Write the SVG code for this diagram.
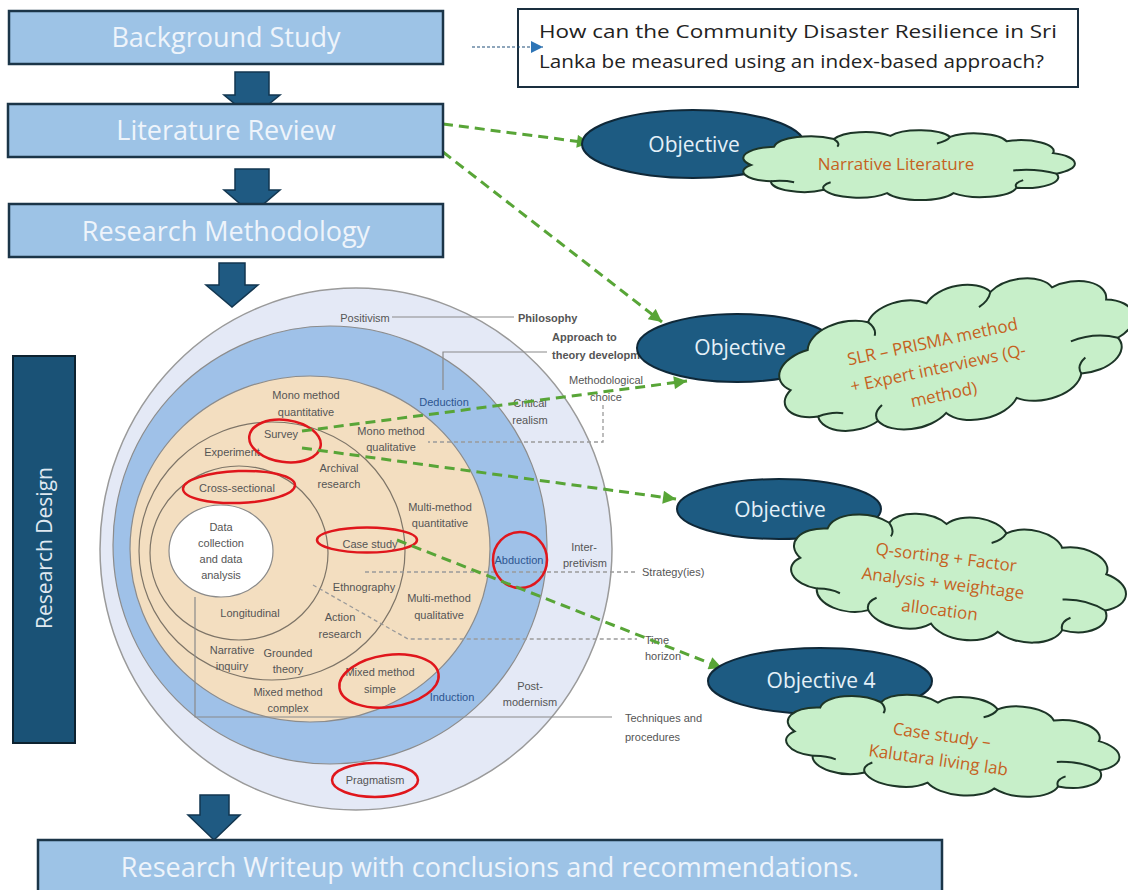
<svg xmlns="http://www.w3.org/2000/svg" width="1128" height="890" viewBox="0 0 1128 890">
  <style>
    .stage{fill:#9dc3e6;stroke:#1b3548;stroke-width:2.5}
    .stage-t{font-family:"Open Sans","Liberation Sans",sans-serif;font-size:27px;fill:#eef4fb;text-anchor:middle}
    .block{fill:#1f5a82;stroke:#123650;stroke-width:1.5}
    .obj{fill:#1d5b82;stroke:#0f2838;stroke-width:2}
    .obj-t{font-family:"Open Sans","Liberation Sans",sans-serif;font-size:21px;fill:#e4f0f8;text-anchor:middle}
    .cloud{fill:#c7efc9;stroke:#1d3527;stroke-width:2;vector-effect:non-scaling-stroke}
    .cloud-in{fill:none;stroke:#1d3527;stroke-width:2;vector-effect:non-scaling-stroke}
    .cloud-t{font-family:"Open Sans","Liberation Sans",sans-serif;font-size:17px;fill:#c5621e;text-anchor:middle}
    .q-t{font-family:"Open Sans","Liberation Sans",sans-serif;font-size:18.5px;fill:#222222}
    .on{font-family:"Liberation Sans",Arial,sans-serif;font-size:11px;fill:#555555;text-anchor:middle}
    .on-s{text-anchor:start}
    .on-b{font-weight:bold}
    .on-blue{fill:#2d5590}
    .ring{fill:none;stroke:#7d7467;stroke-width:1.2}
    .lbl-line{stroke:#8a8a8a;stroke-width:1.2;fill:none}
    .lbl-dash{stroke:#9a9a9a;stroke-width:1.3;stroke-dasharray:4 3;fill:none}
    .hl{fill:none;stroke:#e0161c;stroke-width:2.5}
    .flow{fill:none;stroke:#58a537;stroke-width:3;stroke-dasharray:10 6}
  </style>
  <defs>
    <marker id="greenHead" viewBox="0 0 10 10" refX="10" refY="5" markerWidth="15" markerHeight="13" markerUnits="userSpaceOnUse" orient="auto">
      <path d="M0,0 L10,5 L0,10 Z" fill="#58a537"/>
    </marker>
    <marker id="blueHead" viewBox="0 0 10 10" refX="10" refY="5" markerWidth="12" markerHeight="12" markerUnits="userSpaceOnUse" orient="auto">
      <path d="M0,0 L10,5 L0,10 Z" fill="#2e75b6"/>
    </marker>
    <!-- cloud outline in a 200x120 frame, centre ~ (102,62) -->
    <g id="cloudShape">
      <path class="cloud" d="M8,62 A21,21 0 0 1 22,28 A22,22 0 0 1 58,14 A20,20 0 0 1 92,8 A20,20 0 0 1 128,10 A20,20 0 0 1 162,18 A20,20 0 0 1 190,40 A21,21 0 0 1 192,78 A20,20 0 0 1 168,104 A22,22 0 0 1 130,114 A22,22 0 0 1 90,114 A22,22 0 0 1 52,108 A20,20 0 0 1 20,92 A18,18 0 0 1 8,62 Z"/>
      <path class="cloud-in" d="M192,78 Q180,68 166,72 M52,108 Q50,100 56,94 M20,92 Q28,90 34,94 M128,10 Q126,18 120,22 M58,14 Q62,22 60,28 M168,104 Q166,96 172,90"/>
    </g>
  </defs>

  <rect width="1128" height="890" fill="#ffffff"/>

  <!-- research onion -->
  <g id="research-onion">
    <ellipse cx="356" cy="549" rx="256" ry="261" fill="#e4e9f6" stroke="#9a9a9a" stroke-width="1.5"/>
    <ellipse cx="330" cy="545" rx="217" ry="219" fill="#9fc1e8" stroke="#8c8c8c" stroke-width="1.2"/>
    <ellipse cx="310" cy="549" rx="180" ry="173" fill="#f3dec0" stroke="#8c8c8c" stroke-width="1.2"/>
    <ellipse class="ring" cx="272" cy="551" rx="133" ry="129"/>
    <ellipse class="ring" cx="239" cy="553" rx="89" ry="87"/>
    <ellipse cx="221" cy="551" rx="52" ry="46" fill="#ffffff" stroke="#8a8a8a" stroke-width="1.2"/>

    <!-- layer label leaders -->
    <path class="lbl-line" d="M392,317 H514"/>
    <path class="lbl-line" d="M443,390 V352 H547"/>
    <path class="lbl-dash" d="M603,405 V442 H428"/>
    <path class="lbl-dash" d="M365,572 H635"/>
    <path class="lbl-dash" d="M313,585 L408,639 H637"/>
    <path class="lbl-line" d="M195,597 V717 H612"/>

    <text class="on" x="365" y="322">Positivism</text>
    <text class="on on-s on-b" x="518" y="322">Philosophy</text>
    <text class="on on-s on-b" x="552" y="341">Approach to</text>
    <text class="on on-s on-b" x="552" y="359">theory development</text>
    <text class="on" x="606" y="384">Methodological</text>
    <text class="on" x="606" y="401">choice</text>
    <text class="on on-blue" x="444" y="406">Deduction</text>
    <text class="on" x="530" y="407">Critical</text>
    <text class="on" x="530" y="424">realism</text>
    <text class="on" x="306" y="399">Mono method</text>
    <text class="on" x="306" y="416">quantitative</text>
    <text class="on" x="391" y="435">Mono method</text>
    <text class="on" x="391" y="451">qualitative</text>
    <text class="on" x="281" y="438">Survey</text>
    <text class="on" x="232" y="456">Experiment</text>
    <text class="on" x="339" y="472">Archival</text>
    <text class="on" x="339" y="488">research</text>
    <text class="on" x="237" y="492">Cross-sectional</text>
    <text class="on" x="440" y="511">Multi-method</text>
    <text class="on" x="440" y="527">quantitative</text>
    <text class="on" x="221" y="531">Data</text>
    <text class="on" x="221" y="547">collection</text>
    <text class="on" x="221" y="563">and data</text>
    <text class="on" x="221" y="579">analysis</text>
    <text class="on" x="370" y="548">Case study</text>
    <text class="on on-blue" x="519" y="564">Abduction</text>
    <text class="on" x="584" y="551">Inter-</text>
    <text class="on" x="585" y="567">pretivism</text>
    <text class="on on-s" x="642" y="576">Strategy(ies)</text>
    <text class="on" x="364" y="591">Ethnography</text>
    <text class="on" x="250" y="617">Longitudinal</text>
    <text class="on" x="439" y="602">Multi-method</text>
    <text class="on" x="439" y="619">qualitative</text>
    <text class="on" x="340" y="621">Action</text>
    <text class="on" x="340" y="638">research</text>
    <text class="on on-s" x="645" y="644">Time</text>
    <text class="on on-s" x="645" y="660">horizon</text>
    <text class="on" x="232" y="654">Narrative</text>
    <text class="on" x="232" y="670">inquiry</text>
    <text class="on" x="288" y="657">Grounded</text>
    <text class="on" x="288" y="673">theory</text>
    <text class="on" x="380" y="676">Mixed method</text>
    <text class="on" x="380" y="693">simple</text>
    <text class="on" x="288" y="696">Mixed method</text>
    <text class="on" x="288" y="712">complex</text>
    <text class="on on-blue" x="452" y="701">Induction</text>
    <text class="on" x="530" y="690">Post-</text>
    <text class="on" x="530" y="706">modernism</text>
    <text class="on on-s" x="625" y="722">Techniques and</text>
    <text class="on on-s" x="625" y="741">procedures</text>
    <text class="on" x="375" y="784">Pragmatism</text>

    <!-- highlighted choices -->
    <ellipse class="hl" cx="285" cy="441" rx="36" ry="21" transform="rotate(8 285 441)"/>
    <ellipse class="hl" cx="239" cy="487" rx="56" ry="16" transform="rotate(-2 239 487)"/>
    <ellipse class="hl" cx="367" cy="540" rx="50" ry="12.5"/>
    <ellipse class="hl" cx="520" cy="560" rx="27" ry="28"/>
    <ellipse class="hl" cx="389" cy="681" rx="50" ry="26" transform="rotate(-8 389 681)"/>
    <ellipse class="hl" cx="375" cy="780" rx="43" ry="17"/>
  </g>

  <!-- research question -->
  <g id="research-question">
    <rect x="518" y="9" width="560" height="78" fill="#ffffff" stroke="#1a2f3f" stroke-width="2"/>
    <text class="q-t" x="539" y="38" textLength="518" lengthAdjust="spacingAndGlyphs">How can the Community Disaster Resilience in Sri</text>
    <text class="q-t" x="539" y="68" textLength="505" lengthAdjust="spacingAndGlyphs">Lanka be measured using an index-based approach?</text>
  </g>

  <!-- connectors -->
  <g id="connectors">
    <polygon class="block" points="235,72 269,72 269,95 280,95 252,118 224,95 235,95"/>
    <polygon class="block" points="235,169 269,169 269,190 280,190 252,214 224,190 235,190"/>
    <polygon class="block" points="219,263 245,263 245,285 258,285 232,307 206,285 219,285"/>
    <polygon class="block" points="200,795 229,795 229,815 240,815 214,840 188,815 200,815"/>
    <path d="M472,47 H543" fill="none" stroke="#1f4e79" stroke-width="1.2" stroke-dasharray="3 2" marker-end="url(#blueHead)"/>
    <path class="flow" d="M443,124 L590,143" marker-end="url(#greenHead)"/>
    <path class="flow" d="M443,152 L662,322" marker-end="url(#greenHead)"/>
    <path class="flow" d="M302,431 L687,381" marker-end="url(#greenHead)"/>
    <path class="flow" d="M302,448 L676,499" marker-end="url(#greenHead)"/>
    <path class="flow" d="M397,540 L722,668" marker-end="url(#greenHead)"/>
  </g>

  <!-- process stages -->
  <g id="background-study">
    <rect class="stage" x="9" y="11" width="434" height="53"/>
    <text class="stage-t" x="226" y="47">Background Study</text>
  </g>
  <g id="literature-review">
    <rect class="stage" x="8" y="104" width="435" height="53"/>
    <text class="stage-t" x="226" y="140">Literature Review</text>
  </g>
  <g id="research-methodology">
    <rect class="stage" x="9" y="204" width="434" height="53"/>
    <text class="stage-t" x="226" y="241">Research Methodology</text>
  </g>
  <g id="research-writeup">
    <rect class="stage" x="38" y="840" width="904" height="60"/>
    <text class="stage-t" x="490" y="877">Research Writeup with conclusions and recommendations.</text>
  </g>
  <g id="research-design">
    <rect x="13" y="356" width="62" height="387" fill="#1a5276" stroke="#0d2230" stroke-width="2"/>
    <text x="0" y="0" transform="translate(52,548) rotate(-90)" font-family="'Open Sans','Liberation Sans',sans-serif" font-size="21" fill="#dfe8f0" text-anchor="middle">Research Design</text>
  </g>

  <!-- objectives -->
  <g id="objective-1">
    <ellipse class="obj" cx="693" cy="144" rx="111" ry="34"/>
    <text class="obj-t" x="694" y="152" font-size="22">Objective</text>
    <use href="#cloudShape" transform="translate(907,165) scale(1.66,0.54) translate(-102,-62)"/>
    <text class="cloud-t" x="896" y="170" font-size="16">Narrative Literature</text>
  </g>
  <g id="objective-2">
    <ellipse class="obj" cx="737" cy="348" rx="100" ry="34"/>
    <text class="obj-t" x="740" y="355">Objective</text>
    <use href="#cloudShape" transform="translate(956,355) rotate(-12) scale(1.8,1.05) translate(-102,-62)"/>
    <g transform="translate(938,368) rotate(-12)">
      <text class="cloud-t" x="0" y="-21">SLR – PRISMA method</text>
      <text class="cloud-t" x="0" y="6">+ Expert interviews (Q-</text>
      <text class="cloud-t" x="0" y="33">method)</text>
    </g>
  </g>
  <g id="objective-3">
    <ellipse class="obj" cx="779" cy="509" rx="102" ry="30"/>
    <text class="obj-t" x="780" y="517">Objective</text>
    <use href="#cloudShape" transform="translate(957,577) rotate(7) scale(1.68,0.95) translate(-102,-62)"/>
    <g transform="translate(943,583) rotate(7)">
      <text class="cloud-t" x="0" y="-20">Q-sorting + Factor</text>
      <text class="cloud-t" x="0" y="6">Analysis + weightage</text>
      <text class="cloud-t" x="0" y="33">allocation</text>
    </g>
  </g>
  <g id="objective-4">
    <ellipse class="obj" cx="820" cy="681" rx="112" ry="33"/>
    <text class="obj-t" x="821" y="688">Objective 4</text>
    <use href="#cloudShape" transform="translate(951,745) rotate(5) scale(1.67,0.76) translate(-102,-62)"/>
    <g transform="translate(940,748) rotate(8)">
      <text class="cloud-t" x="0" y="-7" font-size="17.5">Case study –</text>
      <text class="cloud-t" x="0" y="18" font-size="17.5">Kalutara living lab</text>
    </g>
  </g>
</svg>
